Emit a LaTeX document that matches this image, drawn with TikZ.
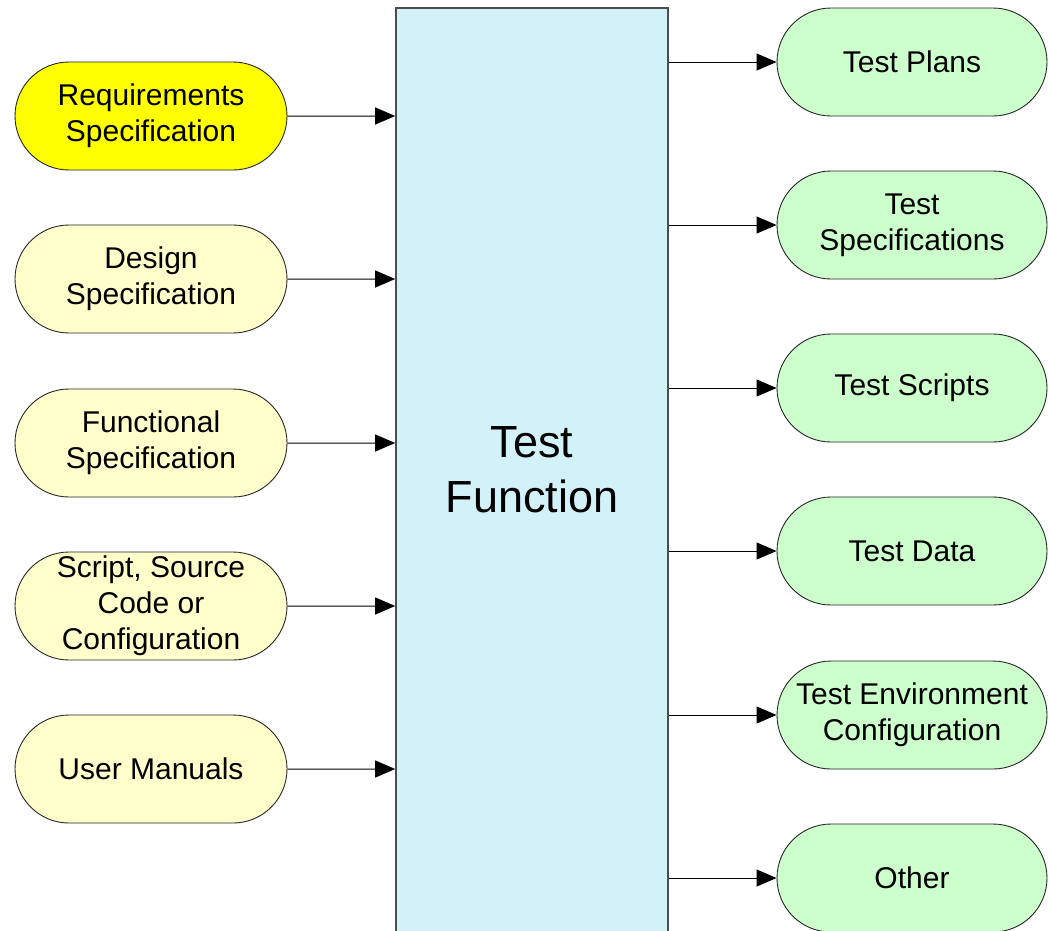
\documentclass[tikz,border=0pt]{standalone}
\usepackage{fontspec}
\setmainfont{Liberation Sans}
\usetikzlibrary{shapes.misc,arrows.meta}
\definecolor{reqyellow}{HTML}{FFFF00}
\definecolor{docyellow}{HTML}{FFFFCC}
\definecolor{outgreen}{HTML}{CCFFCC}
\definecolor{funcblue}{HTML}{D3F1F9}

\begin{document}
\begin{tikzpicture}[x=1pt, y=-1pt]
	\tikzstyle{doc} = [rounded rectangle, draw=black!85, line width=0.9pt, minimum width=272pt, minimum height=108pt, inner sep=0pt, align=center, font=\fontsize{30}{36}\selectfont]
	\tikzstyle{flow} = [-{Triangle[length=20pt, width=17pt]}, line width=1pt]
	\clip (0,0) rectangle (1049,930);
	\node (TF) at (532,470) [draw=black!70, line width=1.6pt, fill=funcblue, minimum width=272pt, minimum height=924pt, align=center, font=\fontsize{45}{55}\selectfont] {Test\\Function};
	\node (In1) at (151,116) [doc, fill=reqyellow] {Requirements\\Specification};
	\node (In2) at (151,279) [doc, fill=docyellow] {Design\\Specification};
	\node (In3) at (151,443) [doc, fill=docyellow] {Functional\\Specification};
	\node (In4) at (151,606) [doc, fill=docyellow] {Script, Source\\Code or\\Configuration};
	\node (In5) at (151,769) [doc, fill=docyellow] {User Manuals};
	\node (Out1) at (912,62) [doc, minimum width=270pt, fill=outgreen] {Test Plans};
	\node (Out2) at (912,225) [doc, minimum width=270pt, fill=outgreen] {Test\\Specifications};
	\node (Out3) at (912,388) [doc, minimum width=270pt, fill=outgreen] {Test Scripts};
	\node (Out4) at (912,551) [doc, minimum width=270pt, fill=outgreen] {Test Data};
	\node (Out5) at (912,715) [doc, minimum width=270pt, fill=outgreen] {Test Environment\\Configuration};
	\node (Out6) at (912,878) [doc, minimum width=270pt, fill=outgreen] {Other};
	\draw [flow] (In1) -- (In1 -| TF.west);
	\draw [flow] (In2) -- (In2 -| TF.west);
	\draw [flow] (In3) -- (In3 -| TF.west);
	\draw [flow] (In4) -- (In4 -| TF.west);
	\draw [flow] (In5) -- (In5 -| TF.west);
	\draw [flow] (Out1 -| TF.east) -- (Out1);
	\draw [flow] (Out2 -| TF.east) -- (Out2);
	\draw [flow] (Out3 -| TF.east) -- (Out3);
	\draw [flow] (Out4 -| TF.east) -- (Out4);
	\draw [flow] (Out5 -| TF.east) -- (Out5);
	\draw [flow] (Out6 -| TF.east) -- (Out6);
\end{tikzpicture}
\end{document}
